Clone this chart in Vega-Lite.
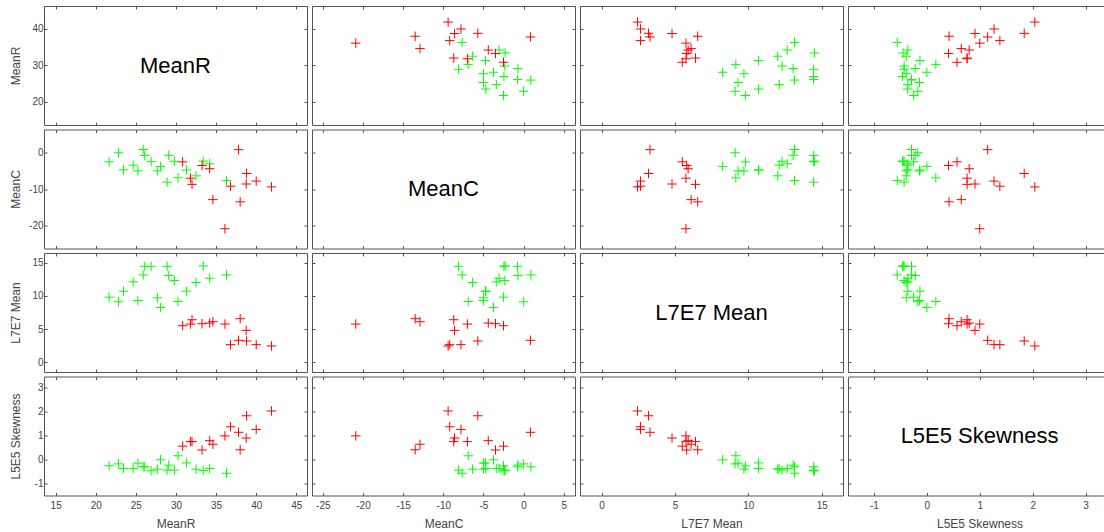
{
"$schema": "https://vega.github.io/schema/vega-lite/v6.json",
"background": "white",
"padding": {"left": 8, "top": 5, "right": 0, "bottom": 0},
"columns": 4,
"spacing": {"row": 2.5, "column": 3},
"datasets": {
"pts": [
{"MeanR":21.67,"MeanC":-2.5,"L7E7":9.8,"L5E5":-0.25,"Group":"B"},
{"MeanR":22.83,"MeanC":0.0,"L7E7":9.1,"L5E5":-0.17,"Group":"B"},
{"MeanR":23.46,"MeanC":-4.7,"L7E7":10.7,"L5E5":-0.36,"Group":"B"},
{"MeanR":24.67,"MeanC":-3.4,"L7E7":12.1,"L5E5":-0.36,"Group":"B"},
{"MeanR":25.25,"MeanC":-5.0,"L7E7":9.3,"L5E5":-0.14,"Group":"B"},
{"MeanR":25.92,"MeanC":0.9,"L7E7":13.15,"L5E5":-0.29,"Group":"B"},
{"MeanR":26.1,"MeanC":-0.75,"L7E7":14.45,"L5E5":-0.29,"Group":"B"},
{"MeanR":26.9,"MeanC":-2.45,"L7E7":14.45,"L5E5":-0.46,"Group":"B"},
{"MeanR":27.67,"MeanC":-5.0,"L7E7":9.7,"L5E5":-0.39,"Group":"B"},
{"MeanR":28.08,"MeanC":-3.75,"L7E7":8.25,"L5E5":0.0,"Group":"B"},
{"MeanR":28.9,"MeanC":-8.1,"L7E7":14.45,"L5E5":-0.43,"Group":"B"},
{"MeanR":29.1,"MeanC":-0.7,"L7E7":13.05,"L5E5":-0.22,"Group":"B"},
{"MeanR":29.8,"MeanC":-2.35,"L7E7":12.3,"L5E5":-0.43,"Group":"B"},
{"MeanR":30.25,"MeanC":-6.9,"L7E7":9.15,"L5E5":0.17,"Group":"B"},
{"MeanR":31.3,"MeanC":-4.75,"L7E7":10.7,"L5E5":-0.13,"Group":"B"},
{"MeanR":32.5,"MeanC":-6.35,"L7E7":12.0,"L5E5":-0.39,"Group":"B"},
{"MeanR":33.4,"MeanC":-2.3,"L7E7":14.5,"L5E5":-0.45,"Group":"B"},
{"MeanR":34.2,"MeanC":-3.05,"L7E7":12.65,"L5E5":-0.36,"Group":"B"},
{"MeanR":36.3,"MeanC":-7.65,"L7E7":13.15,"L5E5":-0.56,"Group":"B"},
{"MeanR":30.83,"MeanC":-2.5,"L7E7":5.5,"L5E5":0.57,"Group":"A"},
{"MeanR":31.8,"MeanC":-7.0,"L7E7":5.75,"L5E5":0.76,"Group":"A"},
{"MeanR":32.0,"MeanC":-8.7,"L7E7":6.4,"L5E5":0.76,"Group":"A"},
{"MeanR":33.25,"MeanC":-3.5,"L7E7":5.8,"L5E5":0.41,"Group":"A"},
{"MeanR":34.2,"MeanC":-4.4,"L7E7":5.9,"L5E5":0.8,"Group":"A"},
{"MeanR":34.6,"MeanC":-12.9,"L7E7":6.1,"L5E5":0.65,"Group":"A"},
{"MeanR":36.1,"MeanC":-20.9,"L7E7":5.75,"L5E5":1.0,"Group":"A"},
{"MeanR":36.8,"MeanC":-9.2,"L7E7":2.65,"L5E5":1.38,"Group":"A"},
{"MeanR":37.8,"MeanC":0.85,"L7E7":3.3,"L5E5":1.15,"Group":"A"},
{"MeanR":38.0,"MeanC":-13.5,"L7E7":6.55,"L5E5":0.42,"Group":"A"},
{"MeanR":38.8,"MeanC":-5.7,"L7E7":3.2,"L5E5":1.84,"Group":"A"},
{"MeanR":38.75,"MeanC":-8.6,"L7E7":4.8,"L5E5":0.91,"Group":"A"},
{"MeanR":40.0,"MeanC":-7.8,"L7E7":2.65,"L5E5":1.27,"Group":"A"},
{"MeanR":41.9,"MeanC":-9.4,"L7E7":2.45,"L5E5":2.04,"Group":"A"}
]
},
"config": {
"view": {"stroke": "#555555", "strokeWidth": 1},
"axis": {"grid": false, "domain": false, "tickSize": -3, "tickColor": "#555555", "labelFont": "Liberation Sans", "labelFontSize": 10, "labelColor": "#444444", "labelFlush": false, "labelExpr": "replace(datum.label, '\u2212', '-')", "titleFont": "Liberation Sans", "titleFontSize": 12, "titleFontWeight": "normal", "titleColor": "#444444"},
"axisX": {"labelPadding": 8},
"axisY": {"labelPadding": 4},
"text": {"font": "Liberation Sans", "fontSize": 22, "color": "#000000"},
"point": {"shape": "M-1,0L1,0M0,-1L0,1", "size": 90, "filled": false, "strokeWidth": 1, "opacity": 1}
},
"concat": [
{"width":263,"height":119,"data":{"values":[{"name":"MeanR"}]},"resolve":{"axis":{"x":"independent","y":"independent"}},"layer":[
 {"mark":"text","encoding":{"x":{"datum":29.94,"type":"quantitative","scale":{"domain":[13.55,46.33],"nice":false,"zero":false},"axis":{"values":[15,20,25,30,35,40,45],"labels":false,"title":null}},
 "y":{"datum":29.94,"type":"quantitative","scale":{"domain":[13.55,46.33],"nice":false,"zero":false},"axis":{"values":[20,30,40],"title":"MeanR","titleX":-29,"titleY":59.5,"titleAngle":-90,"titleAlign":"center","titleBaseline":"middle"}},
 "text":{"field":"name"}}},
 {"mark":{"type":"point","opacity":0},"encoding":{"x":{"datum":29.94,"type":"quantitative","axis":{"orient":"top","values":[15,20,25,30,35,40,45],"labels":false,"title":null}},"y":{"datum":29.94,"type":"quantitative","axis":{"orient":"right","values":[20,30,40],"labels":false,"title":null}}}}]},
{"width":263,"height":119,"data":{"name":"pts"},"resolve":{"axis":{"x":"independent","y":"independent"}},"layer":[
 {"mark":"point","encoding":{"x":{"field":"MeanC","type":"quantitative","scale":{"domain":[-26.35,6.4],"nice":false,"zero":false},"axis":{"values":[-25,-20,-15,-10,-5,0,5],"labels":false,"title":null}},
 "y":{"field":"MeanR","type":"quantitative","scale":{"domain":[13.55,46.33],"nice":false,"zero":false},"axis":{"values":[20,30,40],"labels":false,"title":null}},
 "color":{"field":"Group","type":"nominal","scale":{"domain":["A","B"],"range":["#ff0000","#00ff00"]},"legend":null}}},
 {"mark":{"type":"point","opacity":0},"encoding":{"x":{"field":"MeanC","type":"quantitative","axis":{"orient":"top","values":[-25,-20,-15,-10,-5,0,5],"labels":false,"title":null}},"y":{"field":"MeanR","type":"quantitative","axis":{"orient":"right","values":[20,30,40],"labels":false,"title":null}}}}]},
{"width":263,"height":119,"data":{"name":"pts"},"resolve":{"axis":{"x":"independent","y":"independent"}},"layer":[
 {"mark":"point","encoding":{"x":{"field":"L7E7","type":"quantitative","scale":{"domain":[-1.47,16.45],"nice":false,"zero":false},"axis":{"values":[0,5,10,15],"labels":false,"title":null}},
 "y":{"field":"MeanR","type":"quantitative","scale":{"domain":[13.55,46.33],"nice":false,"zero":false},"axis":{"values":[20,30,40],"labels":false,"title":null}},
 "color":{"field":"Group","type":"nominal","scale":{"domain":["A","B"],"range":["#ff0000","#00ff00"]},"legend":null}}},
 {"mark":{"type":"point","opacity":0},"encoding":{"x":{"field":"L7E7","type":"quantitative","axis":{"orient":"top","values":[0,5,10,15],"labels":false,"title":null}},"y":{"field":"MeanR","type":"quantitative","axis":{"orient":"right","values":[20,30,40],"labels":false,"title":null}}}}]},
{"width":263,"height":119,"data":{"name":"pts"},"resolve":{"axis":{"x":"independent","y":"independent"}},"layer":[
 {"mark":"point","encoding":{"x":{"field":"L5E5","type":"quantitative","scale":{"domain":[-1.49,3.48],"nice":false,"zero":false},"axis":{"values":[-1,0,1,2,3],"labels":false,"title":null}},
 "y":{"field":"MeanR","type":"quantitative","scale":{"domain":[13.55,46.33],"nice":false,"zero":false},"axis":{"values":[20,30,40],"labels":false,"title":null}},
 "color":{"field":"Group","type":"nominal","scale":{"domain":["A","B"],"range":["#ff0000","#00ff00"]},"legend":null}}},
 {"mark":{"type":"point","opacity":0},"encoding":{"x":{"field":"L5E5","type":"quantitative","axis":{"orient":"top","values":[-1,0,1,2,3],"labels":false,"title":null}},"y":{"field":"MeanR","type":"quantitative","axis":{"orient":"right","values":[20,30,40],"labels":false,"title":null}}}}]},

{"width":263,"height":119,"data":{"name":"pts"},"resolve":{"axis":{"x":"independent","y":"independent"}},"layer":[
 {"mark":"point","encoding":{"x":{"field":"MeanR","type":"quantitative","scale":{"domain":[13.55,46.33],"nice":false,"zero":false},"axis":{"values":[15,20,25,30,35,40,45],"labels":false,"title":null}},
 "y":{"field":"MeanC","type":"quantitative","scale":{"domain":[-26.35,6.4],"nice":false,"zero":false},"axis":{"values":[-20,-10,0],"title":"MeanC","titleX":-29,"titleY":59.5,"titleAngle":-90,"titleAlign":"center","titleBaseline":"middle"}},
 "color":{"field":"Group","type":"nominal","scale":{"domain":["A","B"],"range":["#ff0000","#00ff00"]},"legend":null}}},
 {"mark":{"type":"point","opacity":0},"encoding":{"x":{"field":"MeanR","type":"quantitative","axis":{"orient":"top","values":[15,20,25,30,35,40,45],"labels":false,"title":null}},"y":{"field":"MeanC","type":"quantitative","axis":{"orient":"right","values":[-20,-10,0],"labels":false,"title":null}}}}]},
{"width":263,"height":119,"data":{"values":[{"name":"MeanC"}]},"resolve":{"axis":{"x":"independent","y":"independent"}},"layer":[
 {"mark":"text","encoding":{"x":{"datum":-9.975,"type":"quantitative","scale":{"domain":[-26.35,6.4],"nice":false,"zero":false},"axis":{"values":[-25,-20,-15,-10,-5,0,5],"labels":false,"title":null}},
 "y":{"datum":-9.975,"type":"quantitative","scale":{"domain":[-26.35,6.4],"nice":false,"zero":false},"axis":{"values":[-20,-10,0],"labels":false,"title":null}},
 "text":{"field":"name"}}},
 {"mark":{"type":"point","opacity":0},"encoding":{"x":{"datum":-9.975,"type":"quantitative","axis":{"orient":"top","values":[-25,-20,-15,-10,-5,0,5],"labels":false,"title":null}},"y":{"datum":-9.975,"type":"quantitative","axis":{"orient":"right","values":[-20,-10,0],"labels":false,"title":null}}}}]},
{"width":263,"height":119,"data":{"name":"pts"},"resolve":{"axis":{"x":"independent","y":"independent"}},"layer":[
 {"mark":"point","encoding":{"x":{"field":"L7E7","type":"quantitative","scale":{"domain":[-1.47,16.45],"nice":false,"zero":false},"axis":{"values":[0,5,10,15],"labels":false,"title":null}},
 "y":{"field":"MeanC","type":"quantitative","scale":{"domain":[-26.35,6.4],"nice":false,"zero":false},"axis":{"values":[-20,-10,0],"labels":false,"title":null}},
 "color":{"field":"Group","type":"nominal","scale":{"domain":["A","B"],"range":["#ff0000","#00ff00"]},"legend":null}}},
 {"mark":{"type":"point","opacity":0},"encoding":{"x":{"field":"L7E7","type":"quantitative","axis":{"orient":"top","values":[0,5,10,15],"labels":false,"title":null}},"y":{"field":"MeanC","type":"quantitative","axis":{"orient":"right","values":[-20,-10,0],"labels":false,"title":null}}}}]},
{"width":263,"height":119,"data":{"name":"pts"},"resolve":{"axis":{"x":"independent","y":"independent"}},"layer":[
 {"mark":"point","encoding":{"x":{"field":"L5E5","type":"quantitative","scale":{"domain":[-1.49,3.48],"nice":false,"zero":false},"axis":{"values":[-1,0,1,2,3],"labels":false,"title":null}},
 "y":{"field":"MeanC","type":"quantitative","scale":{"domain":[-26.35,6.4],"nice":false,"zero":false},"axis":{"values":[-20,-10,0],"labels":false,"title":null}},
 "color":{"field":"Group","type":"nominal","scale":{"domain":["A","B"],"range":["#ff0000","#00ff00"]},"legend":null}}},
 {"mark":{"type":"point","opacity":0},"encoding":{"x":{"field":"L5E5","type":"quantitative","axis":{"orient":"top","values":[-1,0,1,2,3],"labels":false,"title":null}},"y":{"field":"MeanC","type":"quantitative","axis":{"orient":"right","values":[-20,-10,0],"labels":false,"title":null}}}}]},

{"width":263,"height":119,"data":{"name":"pts"},"resolve":{"axis":{"x":"independent","y":"independent"}},"layer":[
 {"mark":"point","encoding":{"x":{"field":"MeanR","type":"quantitative","scale":{"domain":[13.55,46.33],"nice":false,"zero":false},"axis":{"values":[15,20,25,30,35,40,45],"labels":false,"title":null}},
 "y":{"field":"L7E7","type":"quantitative","scale":{"domain":[-1.47,16.45],"nice":false,"zero":false},"axis":{"values":[0,5,10,15],"title":"L7E7 Mean","titleX":-29,"titleY":59.5,"titleAngle":-90,"titleAlign":"center","titleBaseline":"middle"}},
 "color":{"field":"Group","type":"nominal","scale":{"domain":["A","B"],"range":["#ff0000","#00ff00"]},"legend":null}}},
 {"mark":{"type":"point","opacity":0},"encoding":{"x":{"field":"MeanR","type":"quantitative","axis":{"orient":"top","values":[15,20,25,30,35,40,45],"labels":false,"title":null}},"y":{"field":"L7E7","type":"quantitative","axis":{"orient":"right","values":[0,5,10,15],"labels":false,"title":null}}}}]},
{"width":263,"height":119,"data":{"name":"pts"},"resolve":{"axis":{"x":"independent","y":"independent"}},"layer":[
 {"mark":"point","encoding":{"x":{"field":"MeanC","type":"quantitative","scale":{"domain":[-26.35,6.4],"nice":false,"zero":false},"axis":{"values":[-25,-20,-15,-10,-5,0,5],"labels":false,"title":null}},
 "y":{"field":"L7E7","type":"quantitative","scale":{"domain":[-1.47,16.45],"nice":false,"zero":false},"axis":{"values":[0,5,10,15],"labels":false,"title":null}},
 "color":{"field":"Group","type":"nominal","scale":{"domain":["A","B"],"range":["#ff0000","#00ff00"]},"legend":null}}},
 {"mark":{"type":"point","opacity":0},"encoding":{"x":{"field":"MeanC","type":"quantitative","axis":{"orient":"top","values":[-25,-20,-15,-10,-5,0,5],"labels":false,"title":null}},"y":{"field":"L7E7","type":"quantitative","axis":{"orient":"right","values":[0,5,10,15],"labels":false,"title":null}}}}]},
{"width":263,"height":119,"data":{"values":[{"name":"L7E7 Mean"}]},"resolve":{"axis":{"x":"independent","y":"independent"}},"layer":[
 {"mark":"text","encoding":{"x":{"datum":7.49,"type":"quantitative","scale":{"domain":[-1.47,16.45],"nice":false,"zero":false},"axis":{"values":[0,5,10,15],"labels":false,"title":null}},
 "y":{"datum":7.49,"type":"quantitative","scale":{"domain":[-1.47,16.45],"nice":false,"zero":false},"axis":{"values":[0,5,10,15],"labels":false,"title":null}},
 "text":{"field":"name"}}},
 {"mark":{"type":"point","opacity":0},"encoding":{"x":{"datum":7.49,"type":"quantitative","axis":{"orient":"top","values":[0,5,10,15],"labels":false,"title":null}},"y":{"datum":7.49,"type":"quantitative","axis":{"orient":"right","values":[0,5,10,15],"labels":false,"title":null}}}}]},
{"width":263,"height":119,"data":{"name":"pts"},"resolve":{"axis":{"x":"independent","y":"independent"}},"layer":[
 {"mark":"point","encoding":{"x":{"field":"L5E5","type":"quantitative","scale":{"domain":[-1.49,3.48],"nice":false,"zero":false},"axis":{"values":[-1,0,1,2,3],"labels":false,"title":null}},
 "y":{"field":"L7E7","type":"quantitative","scale":{"domain":[-1.47,16.45],"nice":false,"zero":false},"axis":{"values":[0,5,10,15],"labels":false,"title":null}},
 "color":{"field":"Group","type":"nominal","scale":{"domain":["A","B"],"range":["#ff0000","#00ff00"]},"legend":null}}},
 {"mark":{"type":"point","opacity":0},"encoding":{"x":{"field":"L5E5","type":"quantitative","axis":{"orient":"top","values":[-1,0,1,2,3],"labels":false,"title":null}},"y":{"field":"L7E7","type":"quantitative","axis":{"orient":"right","values":[0,5,10,15],"labels":false,"title":null}}}}]},

{"width":263,"height":119,"data":{"name":"pts"},"resolve":{"axis":{"x":"independent","y":"independent"}},"layer":[
 {"mark":"point","encoding":{"x":{"field":"MeanR","type":"quantitative","scale":{"domain":[13.55,46.33],"nice":false,"zero":false},"axis":{"values":[15,20,25,30,35,40,45],"title":"MeanR","titleX":131.5,"titleY":28,"titleAlign":"center","titleBaseline":"middle"}},
 "y":{"field":"L5E5","type":"quantitative","scale":{"domain":[-1.49,3.48],"nice":false,"zero":false},"axis":{"values":[-1,0,1,2,3],"title":"L5E5 Skewness","titleX":-29,"titleY":59.5,"titleAngle":-90,"titleAlign":"center","titleBaseline":"middle"}},
 "color":{"field":"Group","type":"nominal","scale":{"domain":["A","B"],"range":["#ff0000","#00ff00"]},"legend":null}}},
 {"mark":{"type":"point","opacity":0},"encoding":{"x":{"field":"MeanR","type":"quantitative","axis":{"orient":"top","values":[15,20,25,30,35,40,45],"labels":false,"title":null}},"y":{"field":"L5E5","type":"quantitative","axis":{"orient":"right","values":[-1,0,1,2,3],"labels":false,"title":null}}}}]},
{"width":263,"height":119,"data":{"name":"pts"},"resolve":{"axis":{"x":"independent","y":"independent"}},"layer":[
 {"mark":"point","encoding":{"x":{"field":"MeanC","type":"quantitative","scale":{"domain":[-26.35,6.4],"nice":false,"zero":false},"axis":{"values":[-25,-20,-15,-10,-5,0,5],"title":"MeanC","titleX":131.5,"titleY":28,"titleAlign":"center","titleBaseline":"middle"}},
 "y":{"field":"L5E5","type":"quantitative","scale":{"domain":[-1.49,3.48],"nice":false,"zero":false},"axis":{"values":[-1,0,1,2,3],"labels":false,"title":null}},
 "color":{"field":"Group","type":"nominal","scale":{"domain":["A","B"],"range":["#ff0000","#00ff00"]},"legend":null}}},
 {"mark":{"type":"point","opacity":0},"encoding":{"x":{"field":"MeanC","type":"quantitative","axis":{"orient":"top","values":[-25,-20,-15,-10,-5,0,5],"labels":false,"title":null}},"y":{"field":"L5E5","type":"quantitative","axis":{"orient":"right","values":[-1,0,1,2,3],"labels":false,"title":null}}}}]},
{"width":263,"height":119,"data":{"name":"pts"},"resolve":{"axis":{"x":"independent","y":"independent"}},"layer":[
 {"mark":"point","encoding":{"x":{"field":"L7E7","type":"quantitative","scale":{"domain":[-1.47,16.45],"nice":false,"zero":false},"axis":{"values":[0,5,10,15],"title":"L7E7 Mean","titleX":131.5,"titleY":28,"titleAlign":"center","titleBaseline":"middle"}},
 "y":{"field":"L5E5","type":"quantitative","scale":{"domain":[-1.49,3.48],"nice":false,"zero":false},"axis":{"values":[-1,0,1,2,3],"labels":false,"title":null}},
 "color":{"field":"Group","type":"nominal","scale":{"domain":["A","B"],"range":["#ff0000","#00ff00"]},"legend":null}}},
 {"mark":{"type":"point","opacity":0},"encoding":{"x":{"field":"L7E7","type":"quantitative","axis":{"orient":"top","values":[0,5,10,15],"labels":false,"title":null}},"y":{"field":"L5E5","type":"quantitative","axis":{"orient":"right","values":[-1,0,1,2,3],"labels":false,"title":null}}}}]},
{"width":263,"height":119,"data":{"values":[{"name":"L5E5 Skewness"}]},"resolve":{"axis":{"x":"independent","y":"independent"}},"layer":[
 {"mark":"text","encoding":{"x":{"datum":0.995,"type":"quantitative","scale":{"domain":[-1.49,3.48],"nice":false,"zero":false},"axis":{"values":[-1,0,1,2,3],"title":"L5E5 Skewness","titleX":131.5,"titleY":28,"titleAlign":"center","titleBaseline":"middle"}},
 "y":{"datum":0.995,"type":"quantitative","scale":{"domain":[-1.49,3.48],"nice":false,"zero":false},"axis":{"values":[-1,0,1,2,3],"labels":false,"title":null}},
 "text":{"field":"name"}}},
 {"mark":{"type":"point","opacity":0},"encoding":{"x":{"datum":0.995,"type":"quantitative","axis":{"orient":"top","values":[-1,0,1,2,3],"labels":false,"title":null}},"y":{"datum":0.995,"type":"quantitative","axis":{"orient":"right","values":[-1,0,1,2,3],"labels":false,"title":null}}}}]}
]
}
